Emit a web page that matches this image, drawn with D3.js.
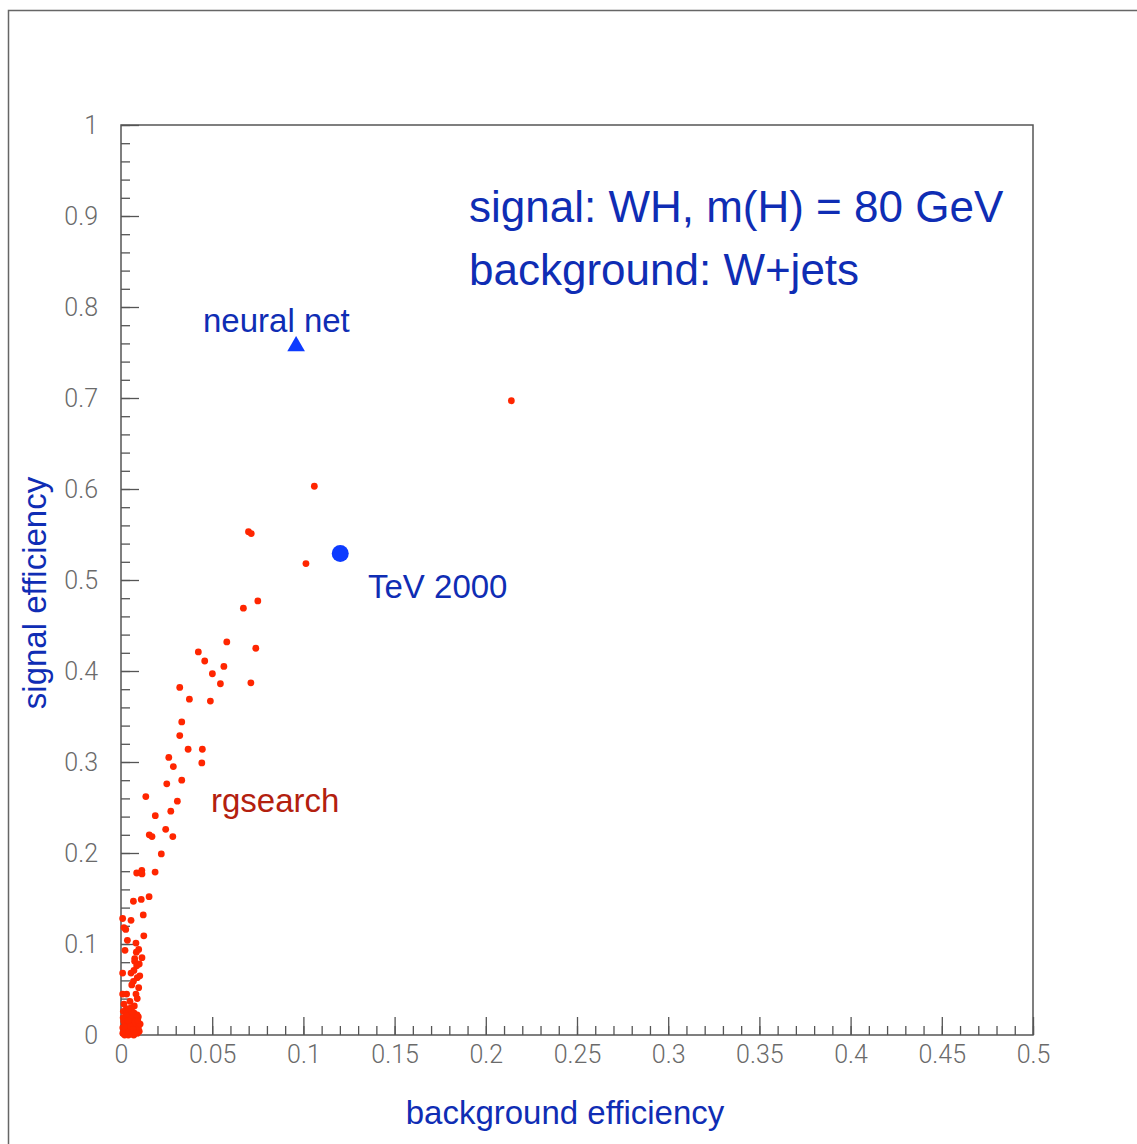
<!DOCTYPE html>
<html>
<head>
<meta charset="utf-8">
<script src="https://cdn.jsdelivr.net/npm/d3@7"></script>
<style>
  body { margin: 0; background: #fff; }
  svg { display: block; }
</style>
</head>
<body>
<div id="chart"></div>
<script>
var width = 1137;
var height = 1144;
var margin = ({top: 125, right: 104, bottom: 109, left: 121});

// rgsearch cut points (background eff, signal eff)
var rgsearchX = [0.214, 0.106, 0.0699, 0.0714, 0.1014, 0.0750, 0.0671, 0.0580, 0.0739, 0.0424,
  0.0459, 0.0564, 0.0501, 0.0545, 0.0712, 0.0322, 0.0375, 0.0490, 0.0333, 0.0322,
  0.0368, 0.0446, 0.0262, 0.0287, 0.0443, 0.0333, 0.0251, 0.0136, 0.0309, 0.0188,
  0.0273, 0.0155, 0.0170, 0.0245, 0.0284, 0.0221, 0.0086, 0.0114, 0.0115, 0.0187,
  0.0068, 0.0111, 0.0154, 0.0122, 0.0009, 0.0055, 0.0016, 0.0026, 0.0125, 0.0035,
  0.0082, 0.0022, 0.0097, 0.0084, 0.0075, 0.0075, 0.0115, 0.0100, 0.0086, 0.0009,
  0.0055, 0.0071, 0.0103, 0.0089, 0.0068, 0.0059, 0.0097, 0.0009, 0.0031, 0.0082,
  0.0089, 0.0049, 0.0073, 0.0016, 0.0013,
  0.004, 0.007, 0.002, 0.008, 0.005, 0.009, 0.003, 0.006, 0.001, 0.004,
  0.008, 0.002, 0.006, 0.003, 0.009, 0.001, 0.005, 0.007, 0.002, 0.010,
  0.004, 0.008, 0.006, 0.003, 0.0095,
  0.0015, 0.0035, 0.0055, 0.0075, 0.0095, 0.0025, 0.0045, 0.0065, 0.0085, 0.0105,
  0.0012, 0.0032, 0.0052, 0.0072, 0.0092, 0.0028, 0.0048, 0.0068, 0.0088, 0.0058,
  0.0038, 0.0018, 0.0078, 0.0062, 0.0042];
var rgsearchY = [0.697, 0.603, 0.553, 0.551, 0.518, 0.477, 0.469, 0.432, 0.425, 0.421,
  0.411, 0.405, 0.397, 0.386, 0.387, 0.382, 0.369, 0.367, 0.344, 0.329,
  0.314, 0.314, 0.305, 0.295, 0.299, 0.280, 0.276, 0.262, 0.257, 0.241,
  0.246, 0.220, 0.218, 0.226, 0.218, 0.199, 0.178, 0.181, 0.177, 0.179,
  0.147, 0.149, 0.152, 0.132, 0.128, 0.126, 0.118, 0.116, 0.109, 0.104,
  0.101, 0.093, 0.094, 0.091, 0.084, 0.081, 0.085, 0.078, 0.076, 0.068,
  0.068, 0.071, 0.065, 0.063, 0.059, 0.055, 0.052, 0.045, 0.045, 0.045,
  0.040, 0.037, 0.032, 0.034, 0.026,
  0.020, 0.019, 0.017, 0.016, 0.014, 0.012, 0.011, 0.010, 0.008, 0.007,
  0.006, 0.005, 0.004, 0.003, 0.002, 0.002, 0.001, 0.000, 0.000, 0.004,
  0.000, 0.010, 0.017, 0.022, 0.020,
  0.015, 0.013, 0.021, 0.013, 0.008, 0.007, 0.004, 0.001, 0.003, 0.012,
  0.019, 0.024, 0.027, 0.024, 0.016, 0.028, 0.010, 0.006, 0.022, 0.030,
  0.016, 0.009, 0.002, 0.025, 0.029];

var neuralNet = [0.096, 0.757];
var tev2000 = [0.1202, 0.529];

var xMajor = [0, 0.05, 0.1, 0.15, 0.2, 0.25, 0.3, 0.35, 0.4, 0.45, 0.5];
var yMajor = [0, 0.1, 0.2, 0.3, 0.4, 0.5, 0.6, 0.7, 0.8, 0.9, 1];

var titleLines = ["signal: WH, m(H) = 80 GeV", "background: W+jets"];

var points = rgsearchX.map((d, i) => [d, rgsearchY[i]]);

var x = d3.scaleLinear()
  .domain([0, 0.5])
  .range([margin.left, width - margin.right]);

var y = d3.scaleLinear()
  .domain([0, 1])
  .range([height - margin.bottom, margin.top]);

var svg = d3.select("#chart").append("svg")
  .attr("width", width)
  .attr("height", height)
  .attr("viewBox", [0, 0, width, height]);

// outer frame (only left and top edges visible)
svg.append("path")
  .attr("d", `M8.5,${height}V10.5H${width}`)
  .attr("fill", "none")
  .attr("stroke", "#666")
  .attr("stroke-width", 1.5);

var tickFont = "Roboto, 'DejaVu Sans', sans-serif";
var fmt = d => String(+d.toFixed(2));

var xMinor = d3.range(0, 0.5001, 0.01).map(d => +d.toFixed(2));
var yMinor = d3.range(0, 1.0001, 0.02).map(d => +d.toFixed(2));

svg.append("g")
  .attr("transform", `translate(0,${y(0)})`)
  .call(d3.axisBottom(x).tickValues(xMinor).tickSize(-9).tickFormat(""))
  .call(g => g.select(".domain").remove());

svg.append("g")
  .attr("transform", `translate(0,${y(0)})`)
  .call(d3.axisBottom(x).tickValues(xMajor).tickSize(-18).tickFormat(fmt).tickPadding(10))
  .call(g => g.select(".domain").remove())
  .call(g => g.selectAll("text")
    .attr("font-family", tickFont)
    .attr("font-weight", 300)
    .attr("font-size", 25)
    .attr("fill", "#6a6a6a"));

svg.append("g")
  .attr("transform", `translate(${x(0)},0)`)
  .call(d3.axisLeft(y).tickValues(yMinor).tickSize(-9).tickFormat(""))
  .call(g => g.select(".domain").remove());

svg.append("g")
  .attr("transform", `translate(${x(0)},0)`)
  .call(d3.axisLeft(y).tickValues(yMajor).tickSize(-18).tickFormat(fmt).tickPadding(23))
  .call(g => g.select(".domain").remove())
  .call(g => g.selectAll("text")
    .attr("font-family", tickFont)
    .attr("font-weight", 300)
    .attr("font-size", 25)
    .attr("fill", "#6a6a6a"));

svg.selectAll(".tick line").attr("stroke", "#555").attr("stroke-width", 1.3);

// plot box
svg.append("rect")
  .attr("x", x(0))
  .attr("y", y(1))
  .attr("width", x(0.5) - x(0))
  .attr("height", y(0) - y(1))
  .attr("fill", "none")
  .attr("stroke", "#555")
  .attr("stroke-width", 1.5);

// rgsearch points
svg.append("g")
  .attr("fill", "#ff2600")
  .selectAll("circle")
  .data(points)
  .join("circle")
    .attr("cx", d => x(d[0]))
    .attr("cy", d => y(d[1]))
    .attr("r", 3.4);

// neural net triangle
svg.append("path")
  .attr("d", d3.symbol().type(d3.symbolTriangle).size(135))
  .attr("transform", `translate(${x(neuralNet[0])},${y(neuralNet[1])})`)
  .attr("fill", "#0d3bff");

// TeV 2000 circle
svg.append("circle")
  .attr("cx", x(tev2000[0]))
  .attr("cy", y(tev2000[1]))
  .attr("r", 8.5)
  .attr("fill", "#0d3bff");

var labelFont = "'Liberation Sans', Arial, Helvetica, sans-serif";
var blue = "#0f2db4";

svg.append("g")
  .attr("font-family", labelFont)
  .attr("font-size", 44)
  .attr("fill", blue)
  .selectAll("text")
  .data(titleLines)
  .join("text")
    .attr("x", 469)
    .attr("y", (d, i) => 222 + i * 63)
    .text(d => d);

svg.append("text")
  .attr("font-family", labelFont).attr("font-size", 33).attr("fill", blue)
  .attr("x", 203).attr("y", 332)
  .text("neural net");

svg.append("text")
  .attr("font-family", labelFont).attr("font-size", 33).attr("fill", blue)
  .attr("x", 368).attr("y", 598)
  .text("TeV 2000");

svg.append("text")
  .attr("font-family", labelFont).attr("font-size", 33).attr("fill", "#b3200e")
  .attr("x", 211).attr("y", 812)
  .text("rgsearch");

svg.append("text")
  .attr("font-family", labelFont).attr("font-size", 33).attr("fill", blue)
  .attr("text-anchor", "middle")
  .attr("x", 565).attr("y", 1124)
  .text("background efficiency");

svg.append("text")
  .attr("font-family", labelFont).attr("font-size", 33).attr("fill", blue)
  .attr("text-anchor", "middle")
  .attr("transform", `translate(46,593) rotate(-90)`)
  .text("signal efficiency");
</script>
</body>
</html>
